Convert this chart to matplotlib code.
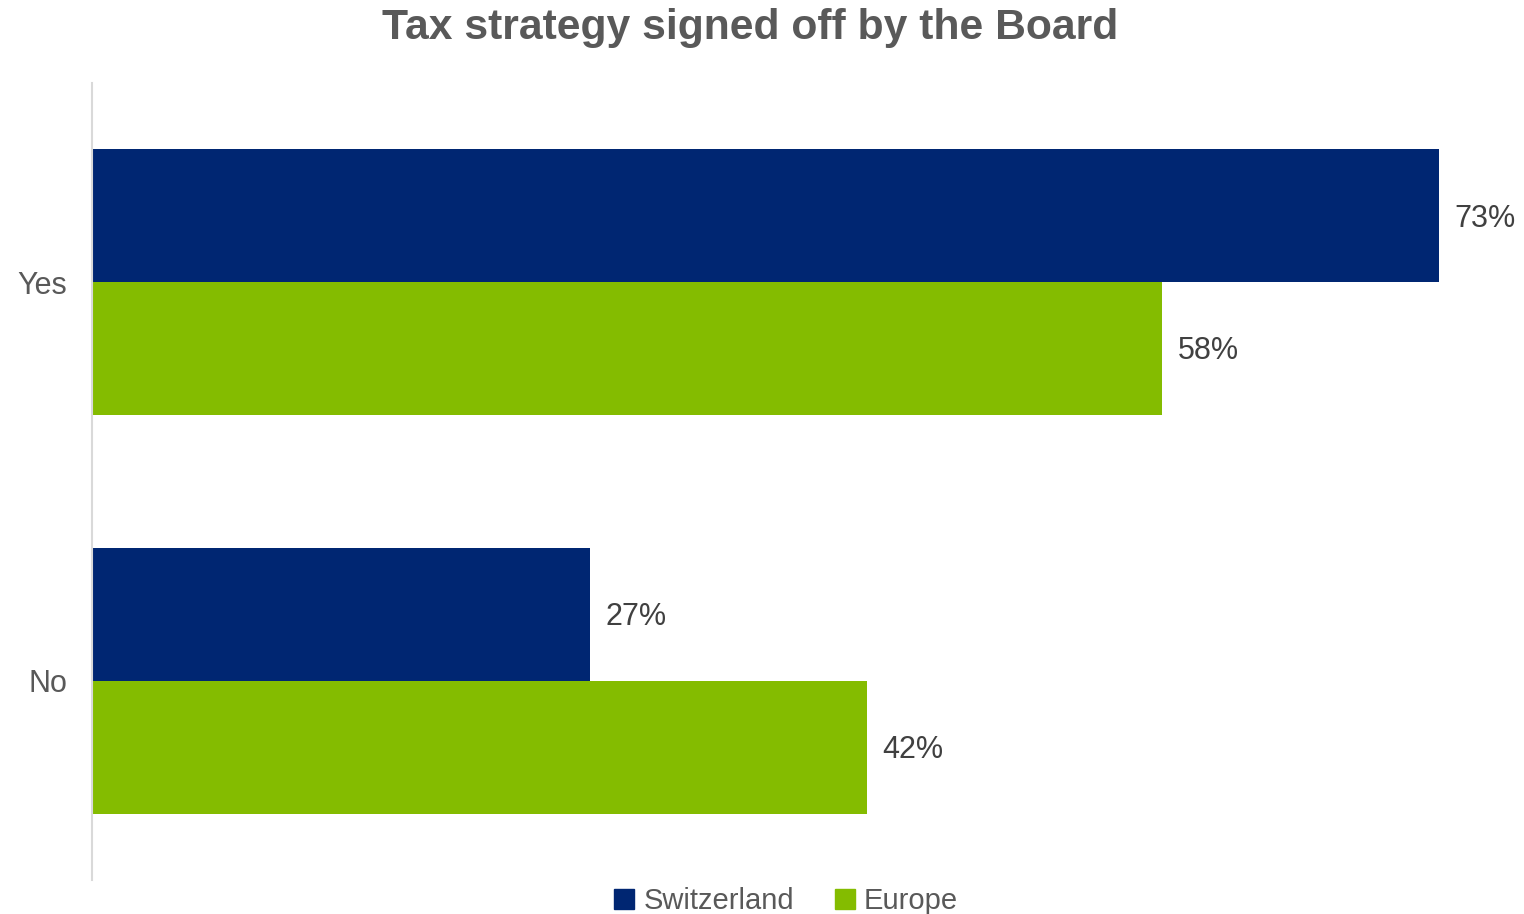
import matplotlib.pyplot as plt
from matplotlib.patches import Patch
import numpy as np

plt.rcParams['font.family'] = ['Liberation Sans', 'DejaVu Sans']

categories = ["No", "Yes"]
switzerland = [27, 73]
europe = [42, 58]
series_names = ["Switzerland", "Europe"]

NAVY = "#002672"
GREEN = "#84BC00"
GREY = "#595959"
LABEL = "#404040"

fig = plt.figure(figsize=(15.24, 9.14), dpi=100)
ax = fig.add_axes([92 / 1524, 34 / 914, 1418 / 1524, 797 / 914])

y = np.arange(len(categories))
h = 1 / 3
ax.barh(y + h / 2, switzerland, height=h, color=NAVY)
ax.barh(y - h / 2, europe, height=h, color=GREEN)

# value labels just right of each bar end
for pos, vals in [(y + h / 2, switzerland), (y - h / 2, europe)]:
    for yi, v in zip(pos, vals):
        ax.annotate(f"{v}%", (v, yi), xytext=(11, -2), textcoords="offset points",
                    va="center", ha="left", fontsize=22, color=LABEL)

ax.set_xlim(0, 1418 / 18.45)
ax.set_ylim(-0.5, 1.5)
ax.set_yticks(y)
ax.set_yticklabels(categories, fontsize=22, color=GREY)
ax.tick_params(axis="y", length=0, pad=18)
ax.set_xticks([])
for side in ["top", "right", "bottom"]:
    ax.spines[side].set_visible(False)
ax.spines["left"].set_color("#D9D9D9")
ax.spines["left"].set_linewidth(1.5)

fig.text(750 / 1524, 1 - 28 / 914, "Tax strategy signed off by the Board",
         ha="center", va="center", fontsize=30.7, fontweight="bold", color=GREY)

handles = [Patch(color=NAVY), Patch(color=GREEN)]
fig.legend(handles, series_names, loc="center", bbox_to_anchor=(786 / 1524, 1 - 901 / 914),
           ncol=2, frameon=False, fontsize=21, labelcolor=GREY,
           handlelength=0.7, handleheight=0.7, handletextpad=0.3, columnspacing=1.4)

fig.savefig("out.png", dpi=100)
